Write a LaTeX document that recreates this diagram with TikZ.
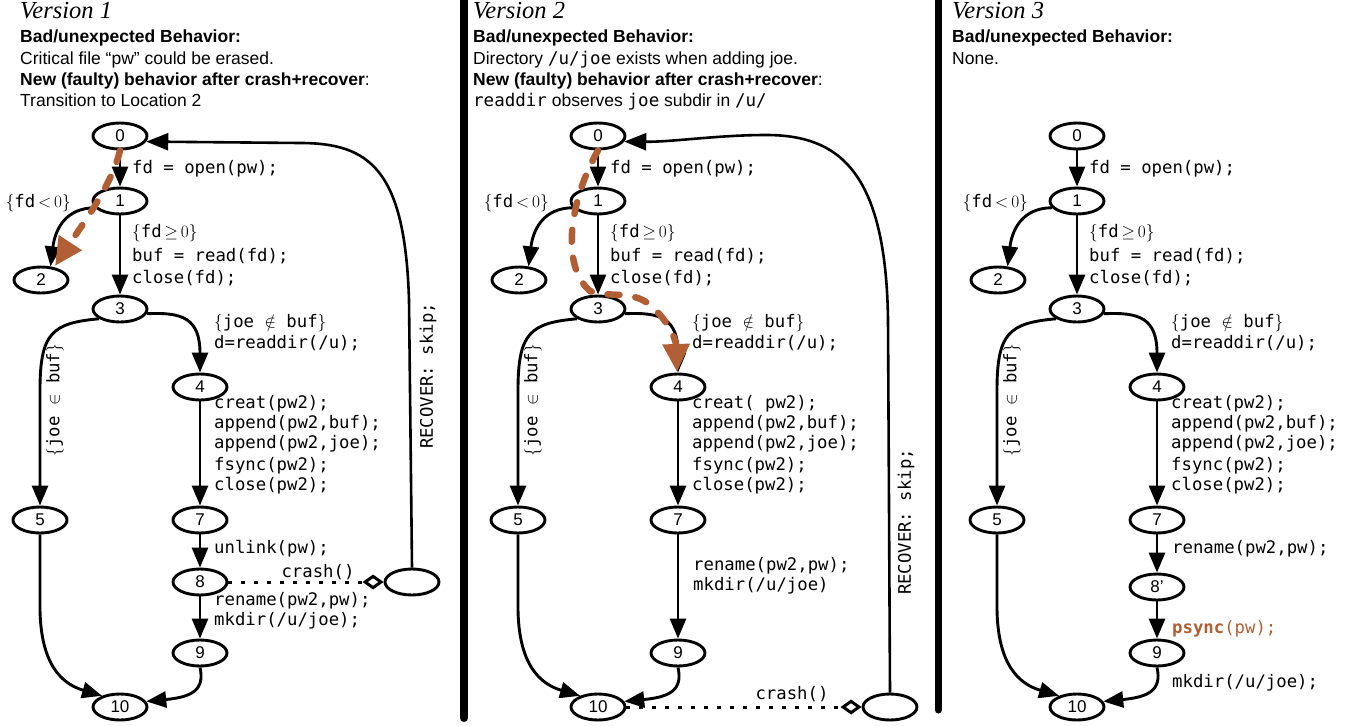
\documentclass[tikz,border=0pt]{standalone}
\usepackage{fontspec}
\setmainfont{Liberation Sans}
\setsansfont{Liberation Sans}
\newfontfamily\vfont{Liberation Serif}
\setmonofont{DejaVu Sans Mono}
\usetikzlibrary{shapes.geometric,arrows.meta}
\definecolor{brn}{RGB}{177,94,52}
\newcommand\mono{\fontsize{17.3}{21}\selectfont\ttfamily}
\newcommand\hdr{\fontsize{17.5}{21}\selectfont}
\newcommand\numf{\fontsize{17}{19}\selectfont\sffamily}
\newcommand\vers{\vfont\itshape\fontsize{24.5}{26}\selectfont}
\newcommand\panelbase[2]{%
 \node[st] (#1n0) at (120,136) {0};
 \node[st] (#1n1) at (120,201) {1};
 \node[st] (#1n2) at (41,280) {2};
 \node[st] (#1n3) at (120,309) {3};
 \node[st] (#1n4) at (200,387) {4};
 \node[st] (#1n5) at (40,520) {5};
 \node[st] (#1n7) at (200,520) {7};
 \node[st] (#1n9) at (200,653) {9};
 \node[st] (#1n10) at (120,707) {10};
 \draw[arr] (#1n0) -- (#1n1);
 \draw[arr] (#1n1) -- (#1n3);
 \draw[arr] (#1n1.195) .. controls (65,208) and (55,230) .. (#1n2.55);
 \draw[arr] (#1n3.-10) .. controls (182,312) and (200,318) .. (#1n4.north);
 \draw[arr] (#1n3.205) .. controls (52,323) and (40,333) .. (40,390) -- (#1n5.north);
 \draw[arr] (#1n4) -- (#1n7);
 \draw[arr] (#1n5.south) -- (40,610) .. controls (41,665) and (62,684) .. (#1n10.148);
 \draw[arr] (#1n9.south) .. controls (205,690) and (192,697) .. (#1n10.12);
 \node[lbl] (#1l01) at (132,173) {fd = open(pw);};
 \node[lbl, anchor=base east] (#1l12) at (71,207) {$\{$fd\,$<$\,$0\}$};
 \node[lbl] (#1l13a) at (132,237) {$\{$fd\,$\geq$\,$0\}$};
 \node[lbl] (#1l13b) at (132,261) {buf = read(fd);};
 \node[lbl] (#1l13c) at (132,283) {close(fd);};
 \node[lbl] (#1l34a) at (214,327) {$\{$joe $\notin$ buf$\}$};
 \node[lbl] (#1l34b) at (214,348) {d=readdir(/u);};
 \node[lbl, anchor=center, rotate=90] (#1l35) at (55,400) {$\{$joe $\in$ buf$\}$};
 \node[lbl] (#1l47a) at (214,408) {#2};
 \node[lbl] (#1l47b) at (214,428) {append(pw2,buf);};
 \node[lbl] (#1l47c) at (214,448) {append(pw2,joe);};
 \node[lbl] (#1l47d) at (214,470) {fsync(pw2);};
 \node[lbl] (#1l47e) at (214,490) {close(pw2);};
}
\begin{document}
\begin{tikzpicture}[x=1pt,y=-1pt,
  st/.style={ellipse, draw, line width=2.9pt, minimum width=54pt, minimum height=26pt, inner sep=0pt, font=\numf},
  arr/.style={line width=2.9pt, -{Triangle[length=20pt,width=16pt]}},
  rec/.style={line width=2.6pt, -{Triangle[length=22pt,width=17pt]}},
  lbl/.style={anchor=base west, inner sep=0pt, font=\mono},
  hd/.style={anchor=base west, inner sep=0pt, font=\hdr},
  crashl/.style={line width=3pt, dash pattern=on 4pt off 9pt, -{Diamond[open,length=21pt,width=15pt]}},
  bpath/.style={draw=brn, line width=6.5pt, line cap=round, dash pattern=on 12pt off 16pt, -{Triangle[length=28pt,width=26pt,fill=brn]}},
  recl/.style={lbl, anchor=center, rotate=90}]
\useasboundingbox (0,0) rectangle (1359,725);
% separators
\draw[line width=8pt, line cap=round] (464,-10) -- (464,718);
\draw[line width=7pt, line cap=round] (938,-10) -- (938,710);
% headers
\node[hd, font=\vers] (h1v) at (20,19) {Version 1};
\node[hd] (h1a) at (20,43) {\textbf{Bad/unexpected Behavior:}};
\node[hd] (h1b) at (20,64) {Critical file “pw” could be erased.};
\node[hd] (h1c) at (20,85) {\textbf{New (faulty) behavior after crash+recover}:};
\node[hd] (h1d) at (20,106) {Transition to Location 2};
\node[hd, font=\vers] (h2v) at (473,19) {Version 2};
\node[hd] (h2a) at (473,43) {\textbf{Bad/unexpected Behavior:}};
\node[hd] (h2b) at (473,64) {Directory \texttt{/u/joe} exists when adding joe.};
\node[hd] (h2c) at (473,85) {\textbf{New (faulty) behavior after crash+recover}:};
\node[hd] (h2d) at (473,106) {\texttt{readdir} observes \texttt{joe} subdir in \texttt{/u/}};
\node[hd, font=\vers] (h3v) at (952,19) {Version 3};
\node[hd] (h3a) at (952,43) {\textbf{Bad/unexpected Behavior:}};
\node[hd] (h3b) at (952,64) {None.};
% ---------- Version 1
\begin{scope}
 \panelbase{a}{creat(pw2);}
 \node[st] (an8) at (200,582) {8};
 \draw[arr] (an7) -- (an8);
 \draw[arr] (an8) -- (an9);
 \node[lbl] (al78) at (214,553) {unlink(pw);};
 \node[lbl] (al89a) at (214,605) {rename(pw2,pw);};
 \node[lbl] (al89b) at (214,625) {mkdir(/u/joe);};
 \node[st] (ar) at (412,582) {};
 \draw[crashl] (an8) -- (ar);
 \node[lbl, anchor=base] (acr) at (318,577) {crash()};
 \draw[rec] (ar.north) -- (409,300) .. controls (405,170) and (370,143) .. (300,143) -- (an0.-12);
 \node[recl] (arl) at (428,376) {RECOVER: skip;};
 \draw[bpath] (an0.south) .. controls (112,185) and (82,225) .. (55,266);
\end{scope}
% ---------- Version 2
\begin{scope}[xshift=478pt]
 \panelbase{b}{creat( pw2);}
 \draw[arr] (bn7) -- (bn9);
 \node[lbl] (bl79a) at (215,570) {rename(pw2,pw);};
 \node[lbl] (bl79b) at (215,590) {mkdir(/u/joe)};
 \node[st] (br) at (412,707) {};
 \draw[crashl] (bn10) -- (br);
 \node[lbl, anchor=base] (bcr) at (314,699) {crash()};
 \draw[rec] (br.north) -- (410,320) .. controls (408,170) and (360,135) .. (288,135) .. controls (240,135) and (195,142) .. (bn0.-12);
 \node[recl] (brl) at (428,522) {RECOVER: skip;};
 \draw[bpath] (bn0.south) .. controls (92,200) and (82,265) .. (112,291) .. controls (130,298) and (155,290) .. (172,305) .. controls (190,320) and (198,340) .. (199,372);
\end{scope}
% ---------- Version 3
\begin{scope}[xshift=957pt]
 \panelbase{c}{creat(pw2);}
 \node[st] (cn8) at (200,587) {8’};
 \draw[arr] (cn7) -- (cn8);
 \draw[arr] (cn8) -- (cn9);
 \node[lbl] (cl78) at (215,553) {rename(pw2,pw);};
 \node[lbl, text=brn] (cl89) at (215,633) {\textbf{psync}(pw);};
 \node[lbl] (cl910) at (215,687) {mkdir(/u/joe);};
\end{scope}
\end{tikzpicture}
\end{document}
